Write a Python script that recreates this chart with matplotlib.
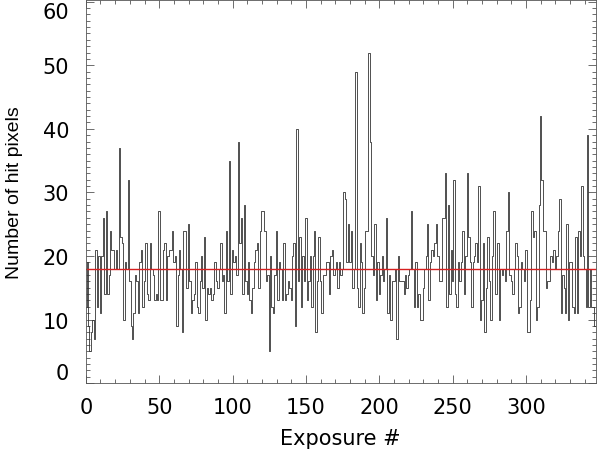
import numpy as np
import matplotlib
matplotlib.use("Agg")
import matplotlib.pyplot as plt
from matplotlib.ticker import MultipleLocator

plt.rcParams['font.family'] = ['DejaVu Sans']

# hit pixel counts per exposure in blocks of ~45 exposures
hits_a = [12, 19, 9, 5, 8, 10, 7, 21, 12, 20, 11, 20, 26, 14, 27, 14, 17, 24, 21, 21, 18,
          21, 18, 37, 23, 22, 10, 19, 18, 32, 16, 9, 7, 11, 17, 16, 11, 19, 21, 12, 16, 22, 14]
hits_b = [13, 22, 18, 17, 13, 14, 13, 27, 13, 13, 21, 22, 13, 20, 21, 21, 24, 19, 20, 9, 17,
          21, 18, 8, 24, 24, 15, 25, 16, 11, 13, 14, 19, 12, 11, 16, 20, 15, 23, 10, 15, 14, 15]
hits_c = [13, 14, 19, 16, 15, 18, 22, 16, 17, 11, 24, 16, 35, 14, 21, 19, 20, 17, 38, 22, 26,
          14, 28, 16, 14, 19, 13, 11, 15, 19, 21, 22, 15, 24, 27, 27, 24, 16, 17, 5, 20, 12, 11]
hits_d = [17, 24, 13, 19, 18, 13, 22, 13, 14, 16, 15, 13, 20, 22, 9, 40, 16, 23, 12, 20, 16,
          26, 13, 16, 20, 12, 20, 24, 8, 16, 23, 16, 11, 17, 17, 19, 19, 14, 20, 21, 17, 18,
          19, 15, 19, 17, 18]
hits_e = [30, 29, 19, 25, 19, 24, 15, 18, 49, 15, 12, 22, 19, 11, 15, 24, 24, 52, 38, 20, 17,
          25, 13, 19, 14, 17, 20, 16, 18, 26, 11, 17, 10, 16, 16, 18, 7, 20, 16, 16, 16, 14, 17]
hits_f = [15, 17, 18, 27, 18, 12, 19, 12, 14, 10, 10, 15, 18, 20, 25, 13, 19, 21, 20, 22, 25,
          20, 16, 16, 26, 26, 33, 12, 28, 14, 21, 16, 32, 14, 12, 19, 16, 19, 24, 14, 20, 33,
          23, 19]
hits_g = [12, 19, 20, 22, 19, 31, 10, 13, 22, 8, 15, 23, 16, 10, 20, 27, 14, 14, 22, 10, 18,
          17, 18, 16, 24, 30, 17, 16, 14, 18, 22, 20, 11, 12, 19, 18, 16, 21, 8, 8, 13, 27, 23]
hits_h = [24, 10, 12, 28, 42, 32, 24, 24, 15, 16, 16, 20, 19, 21, 18, 20, 24, 29, 11, 17, 15,
          11, 25, 10, 19, 19, 12, 11, 23, 11, 24, 20, 31, 20, 18, 12, 39, 12, 18, 12, 12, 9]

mean_level = 17.9
yticks = [0, 10, 20, 30, 40, 50, 60]

hits = np.array(hits_a + hits_b + hits_c + hits_d + hits_e + hits_f + hits_g + hits_h)
exposure = np.arange(len(hits))

fig = plt.figure(figsize=(6.0, 4.6), dpi=100)
ax = fig.add_axes([0.143, 0.165, 0.85, 0.832])

ax.plot(exposure, hits, drawstyle='steps-mid', color='#333333', lw=0.6)
ax.axhline(mean_level, color='#d62020', lw=1.0)

ax.set_xlim(0, len(hits) - 0.5)
ax.set_ylim(0, 60.2)
ax.xaxis.set_major_locator(MultipleLocator(50))
ax.xaxis.set_minor_locator(MultipleLocator(10))
ax.set_yticks(yticks)
ax.yaxis.set_minor_locator(MultipleLocator(1))
ax.tick_params(which='both', direction='in', top=True, right=True, width=0.6, colors='#555555',
               labelcolor='black', labelsize=15)
ax.tick_params(which='major', length=6)
ax.tick_params(which='minor', length=3)
ax.tick_params(axis='x', pad=10)
ax.tick_params(axis='y', pad=12)
for s in ax.spines.values():
    s.set_linewidth(0.6)
    s.set_color('#555555')

# keep the end labels inside the figure, like the original
ylabs = ax.get_yticklabels()
ylabs[0].set_va('bottom')
ylabs[-1].set_va('top')

ax.set_xlabel('Exposure #', fontsize=15, labelpad=8)
ax.set_ylabel('Number of hit pixels', fontsize=14, labelpad=14,
              family=['Liberation Sans Narrow', 'Liberation Sans', 'DejaVu Sans'])

fig.savefig('out.png', dpi=100)
